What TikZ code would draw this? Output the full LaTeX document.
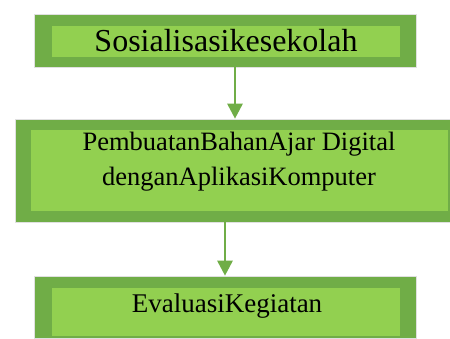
\documentclass[tikz,border=0pt]{standalone}
\usepackage{fontspec}
\setmainfont{Liberation Serif}
\usetikzlibrary{arrows.meta}
\definecolor{darkg}{HTML}{70AD47}
\definecolor{lightg}{HTML}{92D050}
\tikzset{
  outerbox/.style={fill=darkg, draw=black!12, line width=0.6pt, inner sep=0pt, minimum width=#1},
  innerbox/.style={fill=lightg, draw=none, inner sep=0pt},
  lbl/.style={inner sep=0pt, text=black, align=center},
  arr/.style={draw=darkg, line width=2.7pt, -{Triangle[length=15pt, width=15pt]}},
}
\begin{document}
\begin{tikzpicture}[x=1pt,y=-1pt]
\useasboundingbox (0,0) rectangle (450,338);
% box 1
\node[outerbox=382pt, minimum height=53pt] (o1) at (225,40.5) {};
\node[innerbox, minimum width=348pt, minimum height=31pt] (i1) at (226,41.5) {};
\node[lbl, anchor=base, font=\fontsize{32}{36}\selectfont] (t1) at (226,51) {Sosialisasikesekolah};
% box 2
\node[outerbox=435pt, minimum height=103pt] (o2) at (232.5,170.5) {};
\node[innerbox, minimum width=417pt, minimum height=81pt] (i2) at (239.5,170.5) {};
\node[lbl, anchor=base, font=\fontsize{26.5}{35}\selectfont] (t2) at (239,185) {PembuatanBahanAjar Digital\\denganAplikasiKomputer};
% box 3
\node[outerbox=382pt, minimum height=62pt] (o3) at (225,307) {};
\node[innerbox, minimum width=348pt, minimum height=48pt] (i3) at (226,312) {};
\node[lbl, anchor=base, font=\fontsize{27}{32}\selectfont] (t3) at (227,312) {EvaluasiKegiatan};
% arrows
\coordinate (ax1) at (235,0);
\coordinate (ax2) at (225,0);
\draw[arr] (o1.south -| ax1) -- (o2.north -| ax1);
\draw[arr] (o2.south -| ax2) -- (o3.north -| ax2);
\end{tikzpicture}
\end{document}
